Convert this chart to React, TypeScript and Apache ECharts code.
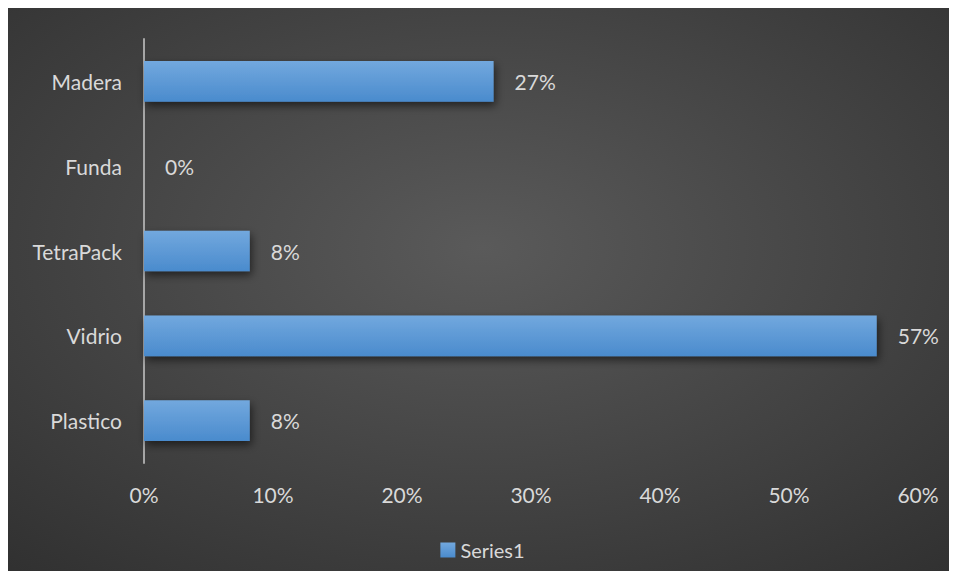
import React, { useEffect, useRef } from "react";
import * as echarts from "echarts";

const categories = ["Plastico", "Vidrio", "TetraPack", "Funda", "Madera"];
const values = [0.082, 0.568, 0.082, 0, 0.271];
const seriesName = "Series1";

export default function App() {
  const ref = useRef<HTMLDivElement>(null);
  useEffect(() => {
    document.documentElement.style.overflow = "hidden";
    document.body.style.overflow = "hidden";
    const chart = echarts.init(ref.current!, null, { renderer: "svg" });
    const font = "Lato, 'Open Sans', sans-serif";
    chart.setOption({
      animation: false,
      backgroundColor: {
        type: "radial",
        x: 0.5,
        y: 0.42,
        r: 0.95,
        colorStops: [
          { offset: 0, color: "#5a5a5a" },
          { offset: 1, color: "#262626" },
        ],
      },
      grid: { left: 136, right: 39, top: 31, bottom: 116, containLabel: false },
      legend: {
        bottom: 14,
        left: "center",
        itemWidth: 15,
        itemHeight: 15,
        icon: "rect",
        data: [seriesName],
        textStyle: { color: "#d9d9d9", fontSize: 20, fontFamily: font },
      },
      xAxis: {
        type: "value",
        min: 0,
        max: 0.6,
        interval: 0.1,
        axisLine: { show: false },
        axisTick: { show: false },
        splitLine: { show: false },
        axisLabel: {
          color: "#d9d9d9",
          fontSize: 21,
          fontFamily: font,
          margin: 21,
          formatter: (v: number) => Math.round(v * 100) + "%",
        },
      },
      yAxis: {
        type: "category",
        data: categories,
        axisLine: { show: true, lineStyle: { color: "#a6a6a6", width: 2 } },
        axisTick: { show: false },
        axisLabel: { color: "#d9d9d9", fontSize: 21, fontFamily: font, margin: 22 },
      },
      series: [
        {
          name: seriesName,
          type: "bar",
          data: values,
          barCategoryGap: "52%",
          itemStyle: {
            color: {
              type: "linear",
              x: 0,
              y: 0,
              x2: 0,
              y2: 1,
              colorStops: [
                { offset: 0, color: "#72a8de" },
                { offset: 1, color: "#4a8bcd" },
              ],
            },
            shadowColor: "rgba(0,0,0,0.55)",
            shadowBlur: 8,
            shadowOffsetY: 4,
            shadowOffsetX: 2,
          },
          label: {
            show: true,
            position: "right",
            distance: 21,
            color: "#d9d9d9",
            fontSize: 21,
            fontFamily: font,
            formatter: (p: any) => Math.round(p.value * 100) + "%",
          },
        },
      ],
    });
    return () => chart.dispose();
  }, []);
  return <div ref={ref} style={{ width: 949, height: 571, marginBottom: -8 }} />;
}
